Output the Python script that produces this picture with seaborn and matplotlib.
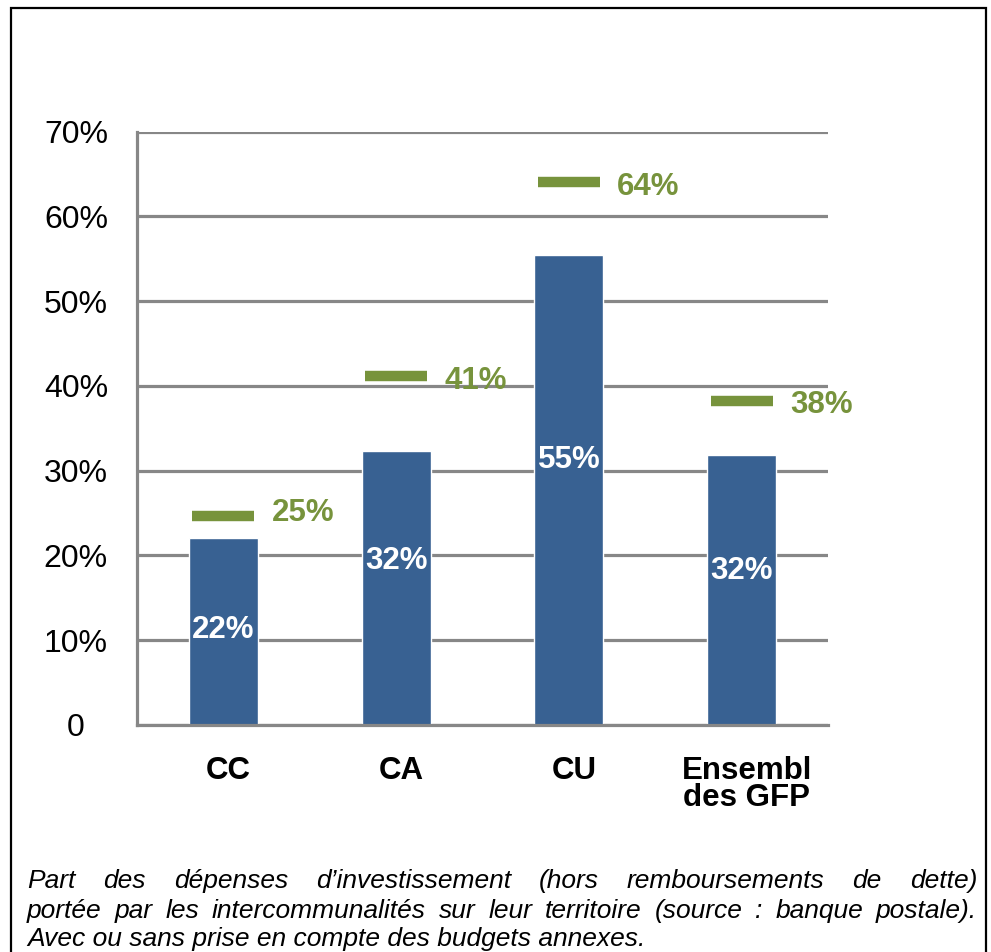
import matplotlib
matplotlib.use("Agg")
import matplotlib.pyplot as plt
import matplotlib.patches as mpatches
import matplotlib.transforms as mtransforms
import seaborn as sns
import pandas as pd

# ---- data ----
categories = ["CC", "CA", "CU", "Ensembl\ndes GFP"]
bar_values = [22.1, 32.3, 55.4, 31.9]          # sans budgets annexes (bars)
marker_values = [24.6, 41.2, 64.1, 38.2]       # avec budgets annexes (green dashes)
ytick_values = [0, 10, 20, 30, 40, 50, 60, 70]
ytick_labels = ["0", "10%", "20%", "30%", "40%", "50%", "60%", "70%"]
caption_lines = [
    "Part des dépenses d’investissement (hors remboursements de dette)",
    "portée par les intercommunalités sur leur territoire (source : banque postale).",
    "Avec ou sans prise en compte des budgets annexes.",
]

# ---- layout / style ----
bar_label_y = [11.2, 19.4, 31.3, 18.2]
marker_label_y = [25.0, 40.6, 63.5, 37.7]
BLUE = "#386192"
GREEN = "#77933C"
GRID = "#878787"

sns.set_theme(style="white")
plt.rcParams["font.family"] = ["Liberation Sans", "DejaVu Sans"]
plt.rcParams["text.color"] = "black"
plt.rcParams["xtick.color"] = "black"
plt.rcParams["ytick.color"] = "black"

W, H = 991, 952
fig = plt.figure(figsize=(W / 100, H / 100), dpi=100)
ax = fig.add_axes([137 / W, 1 - 725 / H, (828 - 137) / W, (725 - 131.5) / H])

df = pd.DataFrame({"cat": categories, "val": bar_values})
sns.barplot(data=df, x="cat", y="val", color=BLUE, width=0.40, saturation=1,
            ax=ax, zorder=3)

ax.set_ylim(0, 70)
ax.set_xlim(-0.5, len(categories) - 0.5)
ax.set_yticks(ytick_values)
ax.set_yticklabels(ytick_labels, fontsize=23, ha="center")
ax.tick_params(axis="y", length=0, pad=44, labelcolor="black")
ax.tick_params(axis="x", length=0, pad=22, labelcolor="black")
ax.set_xticks(range(len(categories)))
ax.set_xticklabels(categories, fontsize=22.5, fontweight="bold", linespacing=0.88)
shift = mtransforms.ScaledTranslation(5 / 100, 0, fig.dpi_scale_trans)
for lab in ax.get_xticklabels():
    lab.set_transform(lab.get_transform() + shift)
ax.set_xlabel("")
ax.set_ylabel("")
ax.yaxis.grid(True, color=GRID, linewidth=2.3, zorder=0)
ax.set_axisbelow(True)
for s in ["top", "right"]:
    ax.spines[s].set_visible(False)
for s in ["left", "bottom"]:
    ax.spines[s].set_color(GRID)
    ax.spines[s].set_linewidth(2.3)
    ax.spines[s].set_zorder(4)

# green dashes
for i, v in enumerate(marker_values):
    ax.hlines(v, i - 0.18, i + 0.18, color=GREEN, linewidth=7.5, zorder=5)
    ax.text(i + 0.28, marker_label_y[i], f"{round(v)}%", color=GREEN,
            fontsize=22.5, fontweight="bold", ha="left", va="center", zorder=6)

# bar labels
for i, v in enumerate(bar_values):
    ax.text(i, bar_label_y[i], f"{round(v)}%", color="white", fontsize=22.5,
            fontweight="bold", ha="center", va="center", zorder=6)

# frame
fig.patches.append(mpatches.Rectangle((11 / W, -0.02), (986 - 11) / W, 1.02 - 8.5 / H,
                                      transform=fig.transFigure, fill=False,
                                      edgecolor="black", linewidth=1.6))

# caption (justified)
renderer = fig.canvas.get_renderer()
x0, x1 = 27, 977
baselines = [888, 918, 946]


def text_width(s, fs):
    t = fig.text(0, 0, s, fontsize=fs, style="italic")
    w = t.get_window_extent(renderer).width
    t.remove()
    return w

fs_ref = 10
w_last = text_width(caption_lines[2], fs_ref)
fs = fs_ref * (648 - 27) / w_last

for li, line in enumerate(caption_lines):
    y = 1 - baselines[li] / H
    if li == len(caption_lines) - 1:
        fig.text(x0 / W, y, line, fontsize=fs, style="italic", va="baseline",
                 ha="left", color="black")
        continue
    words = line.split(" ")
    widths = [text_width(w, fs) for w in words]
    gap = (x1 - x0 - sum(widths)) / (len(words) - 1)
    x = x0
    for w, wd in zip(words, widths):
        fig.text(x / W, y, w, fontsize=fs, style="italic", va="baseline",
                 ha="left", color="black")
        x += wd + gap

fig.savefig("out.png", dpi=100)
